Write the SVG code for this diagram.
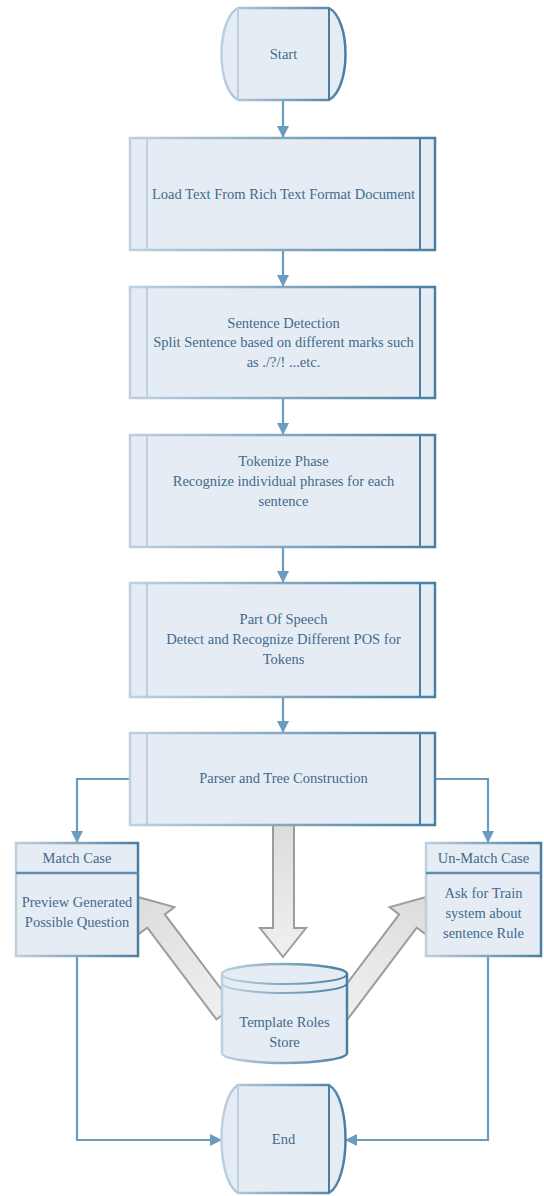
<svg xmlns="http://www.w3.org/2000/svg" width="544" height="1196" viewBox="0 0 544 1196">
<defs>
<linearGradient id="sg" x1="0" y1="0" x2="1" y2="0">
<stop offset="0" stop-color="#bdd0e0"/>
<stop offset="1" stop-color="#4a7fa3"/>
</linearGradient>
<linearGradient id="gg" x1="0" y1="0" x2="0" y2="1">
<stop offset="0" stop-color="#dcdcdc"/>
<stop offset="1" stop-color="#f0f0f0"/>
</linearGradient>
<marker id="ah" markerWidth="12" markerHeight="12" refX="11" refY="6" orient="auto" markerUnits="userSpaceOnUse" viewBox="0 0 12 12">
<path d="M0,0 L12,6 L0,12 Z" fill="#6a9cc0"/>
</marker>
<style>
.box{fill:#e6ecf3;stroke:url(#sg);stroke-width:2.5}
.in{stroke-width:2}
.l{stroke:#bdd0e0}
.r{stroke:#4a7fa3}
.t{font-family:"Liberation Serif",serif;font-size:14.5px;fill:#3f6a8e;text-anchor:middle}
.c{fill:none;stroke:#6a9cc0;stroke-width:2.2}
.g{fill:url(#gg);stroke:#9c9c9c;stroke-width:2}
</style>
</defs>

<g id="connectors">
<path class="c" d="M283,100 V137" marker-end="url(#ah)"/>
<path class="c" d="M283,250 V286" marker-end="url(#ah)"/>
<path class="c" d="M283,398 V434" marker-end="url(#ah)"/>
<path class="c" d="M283,547 V582" marker-end="url(#ah)"/>
<path class="c" d="M283,697 V732" marker-end="url(#ah)"/>
<path class="c" d="M130,779 H77 V842" marker-end="url(#ah)"/>
<path class="c" d="M435,779 H488 V842" marker-end="url(#ah)"/>
<path class="c" d="M77,957 V1140 H221" marker-end="url(#ah)"/>
<path class="c" d="M488,957 V1140 H346" marker-end="url(#ah)"/>
</g>

<g id="block-arrows">
<path class="g" d="M273,823 H294 V928 H306 L283,957 L260,928 H273 Z"/>
<path class="g" transform="translate(138,897) rotate(-37)" d="M0,0 L23,30 H11 V145 H-11 V30 H-23 Z"/>
<path class="g" transform="translate(426,897) rotate(37)" d="M0,0 L23,30 H11 V145 H-11 V30 H-23 Z"/>
</g>

<g id="start">
<path class="box" d="M238,8 H329 C351,20 351,88 329,100 H238 C216,88 216,20 238,8 Z"/>
<line class="in l" x1="238" y1="8" x2="238" y2="100"/>
<line class="in r" x1="329" y1="8" x2="329" y2="100"/>
<text class="t" x="283.5" y="59">Start</text>
</g>

<g id="load">
<rect class="box" x="130" y="138" width="305" height="112"/>
<line class="in l" x1="147" y1="138" x2="147" y2="250"/>
<line class="in r" x1="420" y1="138" x2="420" y2="250"/>
<text class="t" x="283.5" y="199">Load Text From Rich Text Format Document</text>
</g>

<g id="sentence">
<rect class="box" x="130" y="287" width="305" height="111"/>
<line class="in l" x1="147" y1="287" x2="147" y2="398"/>
<line class="in r" x1="420" y1="287" x2="420" y2="398"/>
<text class="t" x="283.5" y="328">Sentence Detection</text>
<text class="t" x="283.5" y="347">Split Sentence based on different marks such</text>
<text class="t" x="283.5" y="367">as ./?/! ...etc.</text>
</g>

<g id="tokenize">
<rect class="box" x="130" y="435" width="305" height="112"/>
<line class="in l" x1="147" y1="435" x2="147" y2="547"/>
<line class="in r" x1="420" y1="435" x2="420" y2="547"/>
<text class="t" x="283.5" y="466">Tokenize Phase</text>
<text class="t" x="283.5" y="486">Recognize individual phrases for each</text>
<text class="t" x="283.5" y="506">sentence</text>
</g>

<g id="pos">
<rect class="box" x="130" y="583" width="305" height="114"/>
<line class="in l" x1="147" y1="583" x2="147" y2="697"/>
<line class="in r" x1="420" y1="583" x2="420" y2="697"/>
<text class="t" x="283.5" y="624">Part Of Speech</text>
<text class="t" x="283.5" y="644">Detect and Recognize Different POS for</text>
<text class="t" x="283.5" y="664">Tokens</text>
</g>

<g id="parser">
<rect class="box" x="130" y="733" width="305" height="92"/>
<line class="in l" x1="147" y1="733" x2="147" y2="825"/>
<line class="in r" x1="420" y1="733" x2="420" y2="825"/>
<text class="t" x="283.5" y="783">Parser and Tree Construction</text>
</g>

<g id="match">
<rect class="box" x="16" y="843" width="122" height="113"/>
<line x1="16" y1="873" x2="138" y2="873" stroke="#5d8db0" stroke-width="2.5"/>
<text class="t" x="77" y="863">Match Case</text>
<text class="t" x="77" y="907">Preview Generated</text>
<text class="t" x="77" y="927">Possible Question</text>
</g>

<g id="unmatch">
<rect class="box" x="426" y="843" width="115" height="113"/>
<line x1="426" y1="873" x2="541" y2="873" stroke="#5d8db0" stroke-width="2.5"/>
<text class="t" x="483.5" y="863">Un-Match Case</text>
<text class="t" x="483.5" y="898">Ask for Train</text>
<text class="t" x="483.5" y="918">system about</text>
<text class="t" x="483.5" y="938">sentence Rule</text>
</g>

<g id="store">
<path class="box" d="M222,974 A62.5,10 0 0 1 347,974 V1053 A62.5,10 0 0 1 222,1053 Z"/>
<path d="M222,974 A62.5,10 0 0 0 347,974" fill="none" stroke="url(#sg)" stroke-width="2"/>
<path d="M222,983 A62.5,10 0 0 0 347,983" fill="none" stroke="url(#sg)" stroke-width="2"/>
<text class="t" x="284.5" y="1027">Template Roles</text>
<text class="t" x="284.5" y="1047">Store</text>
</g>

<g id="end">
<path class="box" d="M238,1085 H329 C351,1098 351,1180 329,1193 H238 C216,1180 216,1098 238,1085 Z"/>
<line class="in l" x1="238" y1="1085" x2="238" y2="1193"/>
<line class="in r" x1="329" y1="1085" x2="329" y2="1193"/>
<text class="t" x="283.5" y="1144">End</text>
</g>
</svg>
